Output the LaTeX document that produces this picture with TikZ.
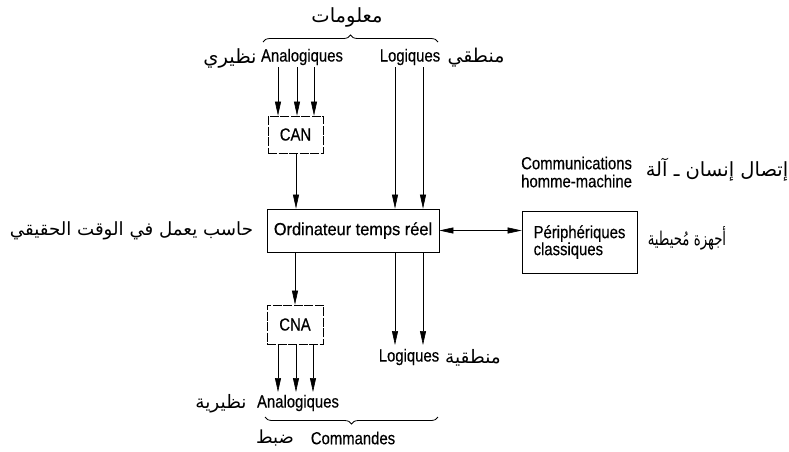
\documentclass[tikz,border=0pt]{standalone}
\usepackage{fontspec}
\setmainfont{Liberation Sans}
\newfontfamily\condfont[FakeStretch=0.85,FakeBold=0.4]{Liberation Sans}
\newfontfamily\arabicfont[Script=Arabic]{DejaVu Sans}
\TeXXeTstate=1
\usetikzlibrary{arrows.meta,decorations.pathreplacing}
\newcommand\artxt[1]{\beginR #1\endR}
\newcommand\arsz[1]{\arabicfont\fontsize{#1}{22}\selectfont}
\begin{document}
\begin{tikzpicture}[x=1pt,y=-1pt,
  lat/.style={font=\condfont\fontsize{17.5}{19}\selectfont, inner sep=0pt},
  ar/.style={font=\arsz{19.5}, inner sep=0pt},
  boxn/.style={draw, line width=0.7pt, inner sep=0pt, font=\condfont\fontsize{17.5}{19}\selectfont},
  convbox/.style={boxn, dash pattern=on 9pt off 1.5pt},
  arr/.style={line width=0.6pt, -{Triangle[length=14pt,width=6pt]}},
  dblarr/.style={line width=0.6pt, {Triangle[length=14pt,width=6pt]}-{Triangle[length=14pt,width=6pt]}},
  bracest/.style={line width=0.8pt, decorate, decoration={brace, amplitude=7pt}},
]
\useasboundingbox (0,0) rectangle (789,451);

% boxes
\node[boxn, minimum width=172, minimum height=43] (ord) at (353,230.5) {\scalebox{1.1}[1]{Ordinateur temps réel}};
\node[boxn, minimum width=115, minimum height=62, align=left] (per) at (579.5,242) {Périphériques\\[-2pt]classiques};
\node[convbox, minimum width=55, minimum height=37] (can) at (295.5,134.5) {CAN};
\node[convbox, minimum width=56, minimum height=39] (cna) at (295,324.5) {CNA};

% top labels
\node[ar] (info) at (347,17) {\artxt{معلومات}};
\node[lat] (anain) at (302,57) {Analogiques};
\node[ar] (anainar) at (230,58) {\artxt{نظيري}};
\node[lat] (login) at (410,57) {Logiques};
\node[ar, font=\arsz{19}] (loginar) at (476,58) {\artxt{منطقي}};
\coordinate (bt1) at (263,42);
\coordinate (bt2) at (438,42);
\draw[bracest] (bt1) -- (bt2);

% left label
\node[ar, font=\arsz{18.2}] (ordar) at (131.5,231) {\artxt{حاسب يعمل في الوقت الحقيقي}};

% right labels
\node[lat, align=left, anchor=west] (comm) at (521,172) {Communications\\[-1pt]homme-machine};
\node[ar] (commar) at (717,170) {\artxt{إتصال إنسان ـ آلة}};
\node[ar, font=\arsz{19}] (perar) at (687,238) {\scalebox{0.7}[1]{\artxt{أجهزة مُحيطية}}};

% bottom labels
\node[lat] (logout) at (409,357) {Logiques};
\node[ar, font=\arsz{18.5}] (logoutar) at (473,358) {\artxt{منطقية}};
\node[lat] (anaout) at (298,403) {Analogiques};
\node[ar, font=\arsz{18.5}] (anaoutar) at (221,404) {\artxt{نظيرية}};
\coordinate (bb1) at (438,417);
\coordinate (bb2) at (265,417);
\draw[bracest] (bb1) -- (bb2);
\node[lat] (cmd) at (353,438) {Commandes};
\node[ar, font=\arsz{18}] (cmdar) at (275,438) {\artxt{ضبط}};

% analog inputs
\coordinate (a1) at (278,67);
\coordinate (a2) at (297,67);
\coordinate (a3) at (314,67);
\foreach \c in {a1,a2,a3} \draw[arr] (\c) -- (\c |- can.north);
% logic inputs
\coordinate (l1) at (395,67);
\coordinate (l2) at (423,67);
\foreach \c in {l1,l2} \draw[arr] (\c) -- (\c |- ord.north);
% CAN -> ord
\draw[arr] (can.south -| 296,0) -- (296,0 |- ord.north);
% ord -> CNA
\draw[arr] (ord.south -| 295,0) -- (295,0 |- cna.north);
% analog outputs
\coordinate (o1) at (278,392);
\coordinate (o2) at (296,392);
\coordinate (o3) at (313,392);
\foreach \c in {o1,o2,o3} \draw[arr] (\c |- cna.south) -- (\c);
% logic outputs
\coordinate (p1) at (395,345);
\coordinate (p2) at (423,345);
\foreach \c in {p1,p2} \draw[arr] (\c |- ord.south) -- (\c);
% ord <-> peripherals
\draw[dblarr] (ord.east) -- (ord.east -| per.west);
\end{tikzpicture}
\end{document}
